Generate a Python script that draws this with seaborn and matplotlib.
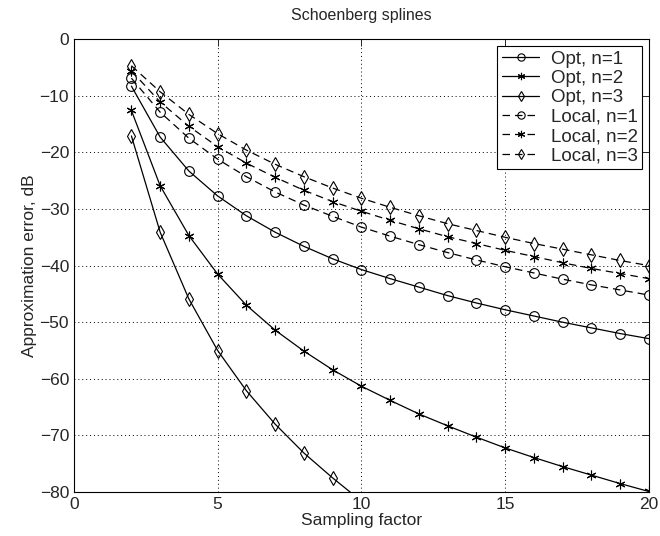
import numpy as np
import pandas as pd
import matplotlib
matplotlib.use("Agg")
import matplotlib.pyplot as plt
import seaborn as sns

# sampling factors
x = list(range(2, 21))

opt_n1 = [-8.3, -17.3, -23.3, -27.7, -31.2, -34.1, -36.6, -38.8, -40.7, -42.3,
          -43.8, -45.3, -46.6, -47.8, -48.9, -50.0, -51.0, -52.0, -52.9]
opt_n2 = [-12.6, -25.9, -34.7, -41.5, -47.0, -51.4, -55.1, -58.4, -61.3, -63.8,
          -66.2, -68.3, -70.3, -72.2, -73.9, -75.5, -77.0, -78.5, -79.9]
opt_n3 = [-17.1, -34.1, -45.9, -55.0, -62.1, -68.0, -73.1, -77.5, -81.6, -85.4,
          -88.9, -92.1, -95.1, -97.9, -100.5, -103.0, -105.3, -107.5, -109.6]
loc_n1 = [-6.9, -12.9, -17.5, -21.2, -24.3, -27.0, -29.3, -31.3, -33.2, -34.8,
          -36.3, -37.7, -39.0, -40.2, -41.3, -42.4, -43.4, -44.3, -45.2]
loc_n2 = [-5.6, -11.1, -15.4, -19.0, -21.9, -24.4, -26.7, -28.7, -30.4, -32.0,
          -33.5, -34.9, -36.1, -37.3, -38.4, -39.5, -40.5, -41.4, -42.3]
loc_n3 = [-4.7, -9.3, -13.3, -16.7, -19.6, -22.1, -24.3, -26.3, -28.1, -29.7,
          -31.2, -32.6, -33.8, -35.0, -36.1, -37.1, -38.1, -39.1, -40.0]

labels = ["Opt, n=1", "Opt, n=2", "Opt, n=3", "Local, n=1", "Local, n=2", "Local, n=3"]
series = [opt_n1, opt_n2, opt_n3, loc_n1, loc_n2, loc_n3]
star = (6, 2, 0)  # matlab-like asterisk
markers = ["o", star, "d", "o", star, "d"]
dashes = ["-", "-", "-", (0, (6, 4)), (0, (6, 4)), (0, (6, 4))]

sns.set_style("white")
plt.rcParams['font.family'] = ['Liberation Sans', 'DejaVu Sans']

fig = plt.figure(figsize=(6.6, 5.36), dpi=100)
ax = fig.add_axes([0.112, 0.082, 0.871, 0.845])

for lab, vals, m, ls in zip(labels, series, markers, dashes):
    df = pd.DataFrame({"x": x, "y": vals})
    sns.lineplot(data=df, x="x", y="y", ax=ax, color="black", linewidth=0.9,
                 linestyle=ls, marker=m, markersize=7, markerfacecolor="none",
                 markeredgecolor="black", markeredgewidth=0.8, label=lab)

ax.set_xlim(0, 20)
ax.set_ylim(-80, 0)
ax.set_xticks([0, 5, 10, 15, 20])
ax.set_yticks(np.arange(-80, 1, 10))
ax.grid(True, color="black", linestyle=(0, (1, 3)), linewidth=0.7)
ax.tick_params(direction="in", top=True, right=True, labelsize=12.5, length=5, width=0.7)
for s in ax.spines.values():
    s.set_color("black")
    s.set_linewidth(0.8)

ax.set_title("Schoenberg splines", fontsize=11.5, pad=14)
ax.set_xlabel("Sampling factor", fontsize=12.5, labelpad=1)
ax.set_ylabel("Approximation error, dB", fontsize=12.5, labelpad=2)

leg = ax.legend(loc="upper right", fontsize=13.5, frameon=True, fancybox=False,
                edgecolor="black", framealpha=1, handlelength=2.0, markerscale=0.75,
                borderaxespad=0.35, labelspacing=0.12, borderpad=0.25, handletextpad=0.6)
leg.get_frame().set_linewidth(0.8)

fig.savefig("out.png", dpi=100)
